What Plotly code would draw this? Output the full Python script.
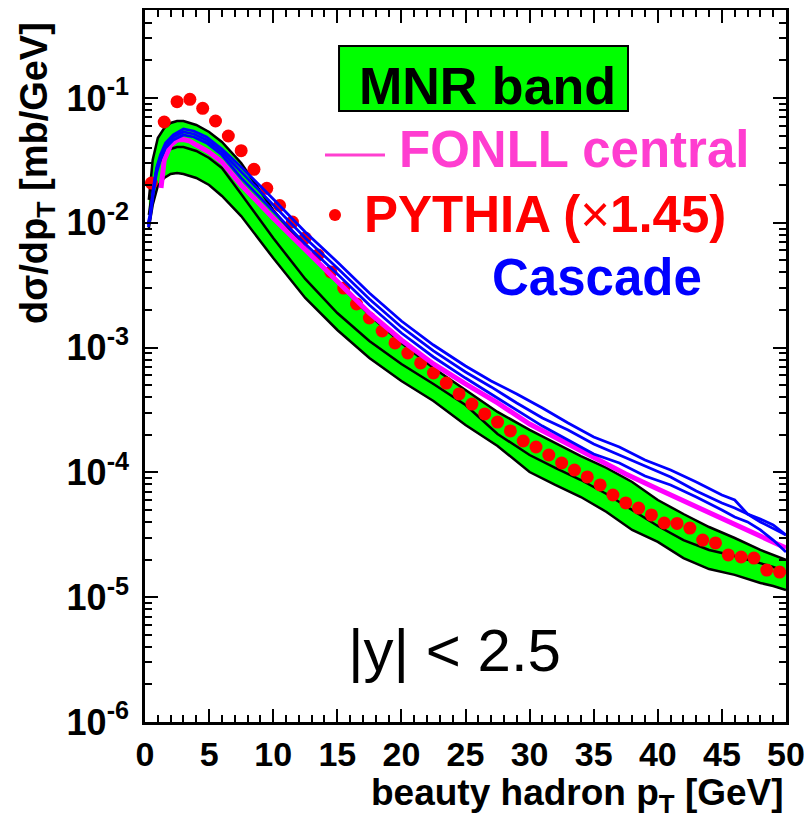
import plotly.graph_objects as go

# ---------------- data ----------------
# MNR band: upper edge, central curve, lower edge  [mb/GeV]
band_pt = [0.3, 0.6, 1.0, 1.5, 2.0, 2.5, 3.0, 4.0, 5.0, 6.0, 7.5, 10, 12.5, 15, 17.5,
           20, 22.5, 25, 27.5, 30, 32, 34, 36, 38, 40, 42, 44, 46, 48, 49, 50]
mnr_upper = [0.01523, 0.0319, 0.04781, 0.05748, 0.06305, 0.06541, 0.06541, 0.06077, 0.0534,
             0.04441, 0.03014, 0.01266, 0.006284, 0.003354, 0.001825, 0.001089, 0.000686,
             0.000458, 0.000305, 0.000219, 0.000172, 0.0001353, 0.0001085, 8.38e-5, 6.01e-5,
             4.64e-5, 3.65e-5, 2.98e-5, 2.39e-5, 2.18e-5, 1.99e-5]
mnr_central = [0.01155, 0.01901, 0.02904, 0.03558, 0.03903, 0.0405, 0.0405, 0.03762, 0.03306,
               0.02749, 0.01701, 0.00755, 0.003546, 0.001893, 0.001129, 0.000739, 0.000511,
               0.000347, 0.000203, 0.0001378, 0.0001085, 8.69e-5, 6.71e-5, 5.0e-5, 3.72e-5,
               2.87e-5, 2.39e-5, 2.14e-5, 1.88e-5, 1.75e-5, 1.59e-5]
mnr_lower = [0.009085, 0.01389, 0.01972, 0.02286, 0.0246, 0.02506, 0.0246, 0.02286, 0.02009,
             0.0164, 0.01133, 0.005223, 0.002497, 0.001384, 0.000825, 0.00054, 0.000373,
             0.00024, 0.0001628, 0.0001007, 7.93e-5, 6.35e-5, 4.82e-5, 3.46e-5, 2.77e-5,
             2.06e-5, 1.68e-5, 1.51e-5, 1.30e-5, 1.23e-5, 1.14e-5]

# FONLL central
fonll_pt = [1.25, 1.5, 2, 2.5, 3, 3.5, 4, 5, 6, 7.5, 10, 12.5, 15, 17.5, 20, 22.5, 25, 27.5,
            30, 32.5, 35, 37.5, 40, 42.5, 45, 47.5, 50]
fonll = [0.019, 0.0319, 0.042, 0.0461, 0.0465, 0.0452, 0.042, 0.0369, 0.0307, 0.0201, 0.01093,
         0.00605, 0.00342, 0.001893, 0.00115, 0.000739, 0.000511, 0.00036, 0.000244,
         0.0001785, 0.0001304, 9.71e-5, 7.36e-5, 5.58e-5, 4.23e-5, 3.21e-5, 2.48e-5]

# Cascade (three curves)
cascade_pt = [0.25, 0.4, 0.65, 0.9, 1.2, 1.6, 2.2, 3.0, 3.8, 4.8, 6, 7.5, 10, 12.5, 15, 17.5,
              20, 22.5, 25, 27, 29, 31, 33, 35, 37, 39, 41, 43, 45, 46, 47, 48, 49, 50]
cascade_a = [0.00996, 0.01176, 0.01901, 0.02749, 0.03493, 0.0436, 0.05053, 0.05643, 0.05439,
             0.0487, 0.03903, 0.028, 0.01551, 0.008439, 0.004852, 0.002738, 0.001633,
             0.001049, 0.000712, 0.00054, 0.000425, 0.000328, 0.0002488, 0.0001922, 0.0001598,
             0.0001257, 0.0001045, 8.38e-5, 6.59e-5, 6.01e-5, 4.64e-5, 4.23e-5, 3.79e-5, 3.15e-5]
cascade_b = [0.0096, 0.01113, 0.01832, 0.02649, 0.03367, 0.04201, 0.0487, 0.0534, 0.05146,
             0.04608, 0.03693, 0.02554, 0.01389, 0.007557, 0.004343, 0.002451, 0.001463,
             0.00094, 0.000638, 0.000484, 0.00036, 0.000273, 0.000219, 0.0001687, 0.0001378,
             0.0001125, 9.19e-5, 7.10e-5, 5.69e-5, 5.18e-5, 4.64e-5, 4.01e-5, 3.58e-5, 3.15e-5]
cascade_c = [0.009254, 0.01073, 0.01733, 0.02506, 0.0319, 0.03975, 0.04608, 0.05053, 0.0487,
             0.0436, 0.03493, 0.02285, 0.01243, 0.006763, 0.003889, 0.002194, 0.001309,
             0.000841, 0.00057, 0.000425, 0.000316, 0.000235, 0.0001818, 0.0001405,
             0.0001189, 9.36e-5, 7.93e-5, 6.35e-5, 5.0e-5, 4.39e-5, 4.01e-5, 3.46e-5, 2.87e-5,
             2.30e-5]

# PYTHIA (x1.45), 1 GeV bins
pythia_pt = [0.5, 1.5, 2.5, 3.5, 4.5, 5.5, 6.5, 7.5, 8.5, 9.5, 10.5, 11.5, 12.5, 13.5, 14.5,
             15.5, 16.5, 17.5, 18.5, 19.5, 20.5, 21.5, 22.5, 23.5, 24.5, 25.5, 26.5, 27.5,
             28.5, 29.5, 30.5, 31.5, 32.5, 33.5, 34.5, 35.5, 36.5, 37.5, 38.5, 39.5, 40.5,
             41.5, 42.5, 43.5, 44.5, 45.5, 46.5, 47.5, 48.5, 49.5]
pythia = [0.0208, 0.0642, 0.0934, 0.0976, 0.0827, 0.0654, 0.0496, 0.0378, 0.0268, 0.0189,
          0.01376, 0.01015, 0.00755, 0.00552, 0.00404, 0.003, 0.002235, 0.001727, 0.001358,
          0.001089, 0.000905, 0.000753, 0.000626, 0.00052, 0.000425, 0.000353, 0.000294,
          0.000253, 0.000215, 0.0001785, 0.0001598, 0.0001378, 0.0001189, 0.0001045, 9.19e-5,
          7.93e-5, 6.59e-5, 5.69e-5, 5.18e-5, 4.56e-5, 3.93e-5, 3.90e-5, 3.58e-5, 2.87e-5,
          2.72e-5, 2.18e-5, 2.10e-5, 2.06e-5, 1.65e-5, 1.59e-5]

x_ticks = [0, 5, 10, 15, 20, 25, 30, 35, 40, 45, 50]
y_ticks = [1e-6, 1e-5, 1e-4, 1e-3, 1e-2, 1e-1]
y_ticktext = ["10<sup>-6</sup>", "10<sup>-5</sup>", "10<sup>-4</sup>", "10<sup>-3</sup>",
              "10<sup>-2</sup>", "10<sup>-1</sup>"]

# ---------------- figure ----------------
BLACK_W = 2.5
fig = go.Figure()
fig.add_trace(go.Scatter(x=band_pt, y=mnr_lower, mode="lines",
                         line=dict(color="black", width=BLACK_W), hoverinfo="skip"))
fig.add_trace(go.Scatter(x=band_pt, y=mnr_upper, mode="lines", fill="tonexty",
                         fillcolor="#00ff00", line=dict(color="black", width=BLACK_W)))
fig.add_trace(go.Scatter(x=band_pt, y=mnr_central, mode="lines",
                         line=dict(color="black", width=BLACK_W)))
fig.add_trace(go.Scatter(x=pythia_pt, y=pythia, mode="markers",
                         marker=dict(color="#ff0000", size=13, line=dict(width=0))))
fig.add_trace(go.Scatter(x=fonll_pt, y=fonll, mode="lines",
                         line=dict(color="#ff00ff", width=5)))
for cy in (cascade_a, cascade_b, cascade_c):
    fig.add_trace(go.Scatter(x=cascade_pt, y=cy, mode="lines",
                             line=dict(color="#0000ff", width=2.8)))

FONT = "Liberation Sans"
# the page body has an 8 px margin, so the figure is sized/margined to compensate
fig.update_layout(
    width=804, height=813,
    margin=dict(l=137, r=26, t=2, b=99, autoexpand=False),
    paper_bgcolor="white", plot_bgcolor="white",
    showlegend=False,
    font=dict(family=FONT, color="black"),
)
fig.update_xaxes(
    range=[0, 50], tickmode="array", tickvals=x_ticks, automargin=False,
    ticklabeloverflow="allow",
    ticks="inside", ticklen=13, tickwidth=2, tickcolor="black",
    minor=dict(dtick=1, ticks="inside", ticklen=7, tickwidth=1.5, tickcolor="black",
               showgrid=False),
    showline=True, linecolor="black", linewidth=2.5, mirror="allticks",
    showgrid=False, zeroline=False,
    tickfont=dict(family="Liberation Sans Narrow, " + FONT, size=34, weight="bold"),
)
fig.update_yaxes(
    type="log", range=[-6, -0.295], tickmode="array", tickvals=y_ticks,
    ticktext=y_ticktext, automargin=False, ticklabeloverflow="allow",
    ticks="inside", ticklen=13, tickwidth=2, tickcolor="black",
    minor=dict(dtick="D1", ticks="inside", ticklen=7, tickwidth=1.5, tickcolor="black",
               showgrid=False),
    showline=True, linecolor="black", linewidth=2.5, mirror="allticks",
    showgrid=False, zeroline=False, ticklabelstandoff=6,
    tickfont=dict(family=FONT, size=36, weight="bold"),
)

# legend-like decorations
fig.add_shape(type="rect", xref="paper", yref="paper", x0=0.3027, x1=0.7535,
              y0=0.8581, y1=0.9494, fillcolor="#00ff00", line=dict(color="black", width=2),
              layer="above")
fig.add_annotation(xref="paper", yref="paper", x=0.5343, y=0.8933, xanchor="center",
                   yanchor="middle", showarrow=False,
                   text="<b>MNR band</b>", font=dict(size=52, color="black"))
fig.add_shape(type="line", xref="paper", yref="paper", x0=0.2808, x1=0.3744,
              y0=0.7963, y1=0.7963, line=dict(color="#ff40d0", width=3))
fig.add_annotation(xref="paper", yref="paper", x=0.3931, y=0.8034, xanchor="left",
                   yanchor="middle", showarrow=False, text="<b>FONLL central</b>",
                   font=dict(size=51, color="#ff3dd0"))
fig.add_shape(type="circle", xref="paper", yref="paper", x0=0.287, x1=0.3058,
              y0=0.7037, y1=0.7205, fillcolor="#ff0000", line=dict(width=0))
fig.add_annotation(xref="paper", yref="paper", x=0.3385, y=0.7121, xanchor="left",
                   yanchor="middle", showarrow=False,
                   text="<b>PYTHIA (</b>×<b>1.45)</b>",
                   font=dict(size=51, color="#ff0000"))
fig.add_annotation(xref="paper", yref="paper", x=0.5382, y=0.6236, xanchor="left",
                   yanchor="middle", showarrow=False, text="<b>Cascade</b>",
                   font=dict(size=51, color="#0000ff"))
fig.add_annotation(xref="paper", yref="paper", x=0.4836, y=0.101, xanchor="center",
                   yanchor="middle", showarrow=False,
                   text="|y| < 2.5", font=dict(size=60, color="black"))

# axis titles
fig.add_annotation(xref="paper", yref="paper", x=-0.1685, y=0.771, textangle=-90,
                   xanchor="center", yanchor="middle",
                   showarrow=False, text="<b>dσ/dp<sub>T</sub> [mb/GeV]</b>",
                   font=dict(size=38, color="black"))
fig.add_annotation(xref="paper", yref="paper", x=1.0, y=-0.103, xanchor="right",
                   yanchor="middle",
                   showarrow=False, text="<b>beauty hadron p<sub>T</sub> [GeV]</b>",
                   font=dict(size=37, color="black"))

fig.write_html("out.html")
